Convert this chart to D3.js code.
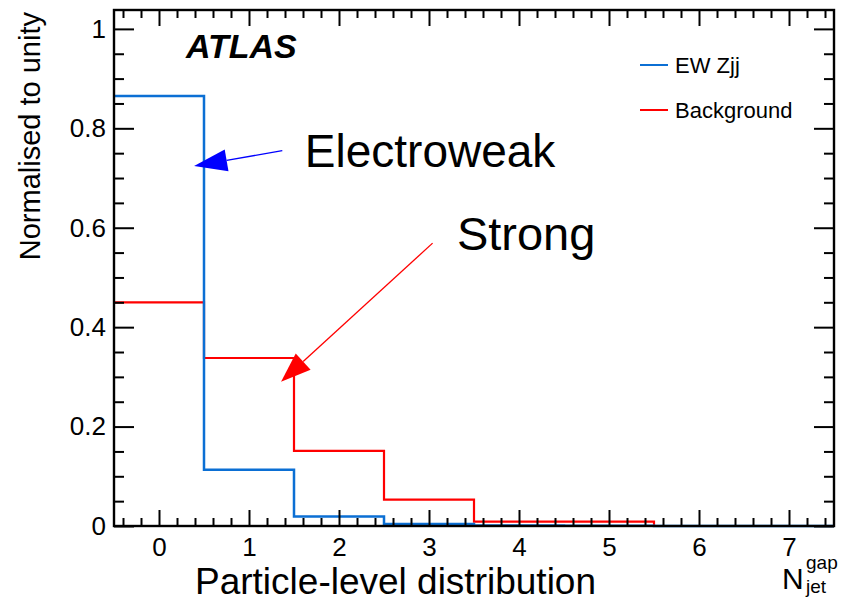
<!DOCTYPE html>
<html>
<head>
<meta charset="utf-8">
<script src="https://cdn.jsdelivr.net/npm/d3@7"></script>
<style>
  body { margin: 0; background: #fff; }
  svg { font-family: "Liberation Sans", Arial, Helvetica, sans-serif; }
</style>
</head>
<body>
<div id="chart"></div>
<script>
// bins of N_jet^gap
const bins = [0, 1, 2, 3, 4, 5, 6, 7]
const ewZjj = [0.865, 0.113, 0.019, 0.004, 0.0008, 0.0005, 0, 0]
const background = [0.450, 0.338, 0.151, 0.053, 0.009, 0.009, 0, 0]
const yTicks = [0, 0.2, 0.4, 0.6, 0.8, 1]
const xTicks = [0, 1, 2, 3, 4, 5, 6, 7]

const W = 842, H = 602
const margin = { top: 10, right: 8, bottom: 76, left: 114 },
    width = W - margin.left - margin.right,
    height = H - margin.top - margin.bottom

const blue = "#0b6fd4", red = "#ff0000"

const svg = d3.select("#chart")
    .append("svg")
    .attr("width", W)
    .attr("height", H)

const g = svg.append("g")
    .attr("transform", `translate(${margin.left},${margin.top})`)

let x = d3.scaleLinear().domain([-0.5, 7.5]).range([0, width])
let y = d3.scaleLinear().domain([0, 1.038]).range([height, 0])

// histograms as step lines
function stepPts(vals) {
    let pts = []
    bins.forEach(function (b, i) {
        pts.push([b - 0.5, vals[i]])
        pts.push([b + 0.5, vals[i]])
    })
    return pts
}
const line = d3.line()
    .x(function (d) { return x(d[0]) })
    .y(function (d) { return y(d[1]) })

g.append("path")
    .datum(stepPts(background))
    .attr("fill", "none")
    .attr("stroke", red)
    .attr("stroke-width", 2.2)
    .attr("d", line)

g.append("path")
    .datum(stepPts(ewZjj))
    .attr("fill", "none")
    .attr("stroke", blue)
    .attr("stroke-width", 2.5)
    .attr("d", line)

// frame drawn over the histograms
g.append("rect")
    .attr("width", width).attr("height", height)
    .attr("fill", "none").attr("stroke", "#000").attr("stroke-width", 2.4)

// axes with inward ticks, minor + major
const minorX = d3.range(-0.4, 7.5, 0.2).filter(function (v) { return Math.abs(v - Math.round(v)) > 0.01 })
const minorY = d3.range(0.05, 1.04, 0.05).filter(function (v) { return Math.abs(v * 5 - Math.round(v * 5)) > 0.01 })

function styleAxis(sel) {
    sel.select(".domain").remove()
    sel.selectAll("line").attr("stroke", "#000").attr("stroke-width", 2)
}

g.append("g").attr("transform", `translate(0,${height})`)
    .call(d3.axisBottom(x).tickValues(minorX).tickSize(-8).tickFormat(""))
    .call(styleAxis)
g.append("g").attr("transform", `translate(0,${height})`)
    .call(d3.axisBottom(x).tickValues(xTicks).tickSize(-16).tickPadding(12).tickFormat(d3.format("d")))
    .call(styleAxis)
    .selectAll("text").attr("font-size", 26).attr("font-family", "Liberation Sans, Arial, sans-serif").attr("fill", "#000")

g.append("g")
    .call(d3.axisTop(x).tickValues(minorX).tickSize(-8).tickFormat(""))
    .call(styleAxis)
g.append("g")
    .call(d3.axisTop(x).tickValues(xTicks).tickSize(-16).tickFormat(""))
    .call(styleAxis)

g.append("g")
    .call(d3.axisLeft(y).tickValues(minorY).tickSize(-10).tickFormat(""))
    .call(styleAxis)
g.append("g")
    .call(d3.axisLeft(y).tickValues(yTicks).tickSize(-20).tickPadding(8).tickFormat(d3.format("")))
    .call(styleAxis)
    .selectAll("text").attr("font-size", 26).attr("font-family", "Liberation Sans, Arial, sans-serif").attr("fill", "#000")

g.append("g").attr("transform", `translate(${width},0)`)
    .call(d3.axisRight(y).tickValues(minorY).tickSize(-10).tickFormat(""))
    .call(styleAxis)
g.append("g").attr("transform", `translate(${width},0)`)
    .call(d3.axisRight(y).tickValues(yTicks).tickSize(-20).tickFormat(""))
    .call(styleAxis)

// axis titles
svg.append("text")
    .attr("transform", "translate(40,12) rotate(-90)")
    .attr("text-anchor", "end")
    .attr("font-size", 29)
    .text("Normalised to unity")

svg.append("text")
    .attr("x", 195).attr("y", 594)
    .attr("font-size", 37)
    .text("Particle-level distribution")

svg.append("text").attr("x", 782).attr("y", 589).attr("font-size", 30).text("N")
svg.append("text").attr("x", 806).attr("y", 569).attr("font-size", 19).text("gap")
svg.append("text").attr("x", 806).attr("y", 593).attr("font-size", 19).text("jet")

// ATLAS label
svg.append("text")
    .attr("x", 186).attr("y", 58)
    .attr("font-size", 34)
    .attr("font-weight", "bold")
    .attr("font-style", "italic")
    .text("ATLAS")

// legend
const legend = [{ name: "EW Zjj", color: blue, y: 65 }, { name: "Background", color: red, y: 110 }]
legend.forEach(function (l) {
    svg.append("line")
        .attr("x1", 640).attr("x2", 668).attr("y1", l.y).attr("y2", l.y)
        .attr("stroke", l.color).attr("stroke-width", 2)
    svg.append("text")
        .attr("x", 675).attr("y", l.y + 8)
        .attr("font-size", 22)
        .text(l.name)
})

// annotations (data coordinates)
function arrow(x0, y0, x1, y1, color, headLen, headW) {
    const px0 = x(x0), py0 = y(y0), px1 = x(x1), py1 = y(y1)
    const ang = Math.atan2(py1 - py0, px1 - px0)
    const bx = px1 - headLen * Math.cos(ang), by = py1 - headLen * Math.sin(ang)
    g.append("line")
        .attr("x1", px0).attr("y1", py0).attr("x2", bx).attr("y2", by)
        .attr("stroke", color).attr("stroke-width", 1.3)
    const nx = -Math.sin(ang) * headW, ny = Math.cos(ang) * headW
    g.append("path")
        .attr("d", `M${px1},${py1}L${bx + nx},${by + ny}L${bx - nx},${by - ny}Z`)
        .attr("fill", color)
}
arrow(1.37, 0.755, 0.39, 0.724, "#0000ff", 33, 11)
arrow(3.04, 0.569, 1.356, 0.29, red, 30, 11)

g.append("text")
    .attr("x", x(1.62)).attr("y", y(0.722))
    .attr("font-size", 46)
    .text("Electroweak")
g.append("text")
    .attr("x", x(3.31)).attr("y", y(0.556))
    .attr("font-size", 47)
    .text("Strong")
</script>
</body>
</html>
